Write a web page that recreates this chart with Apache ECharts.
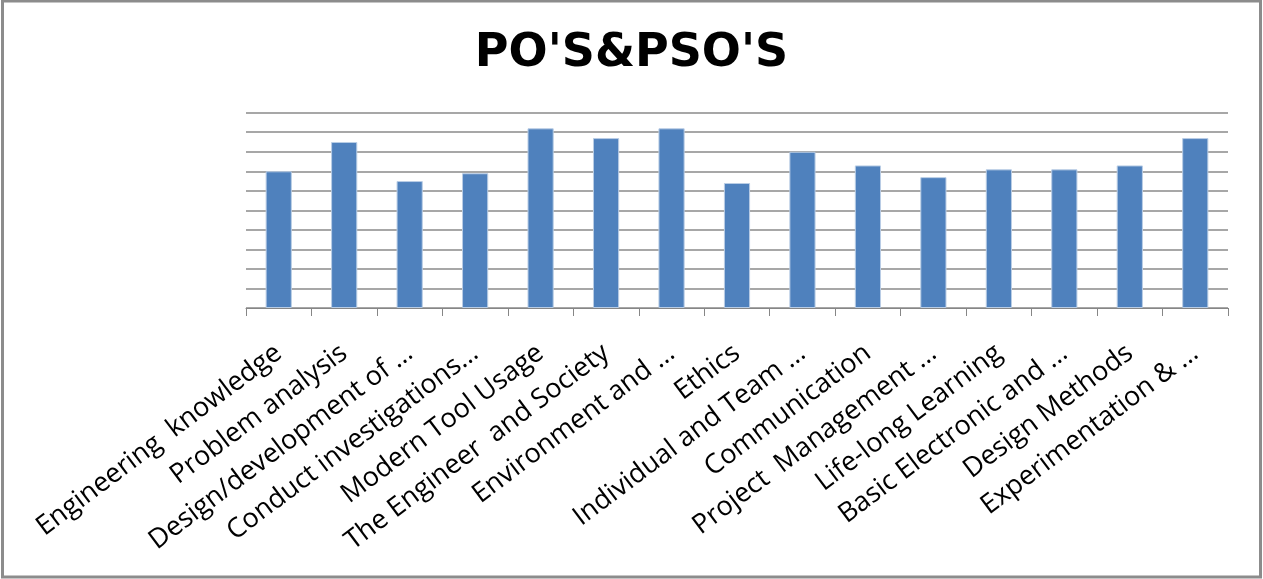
<!DOCTYPE html>
<html>
<head>
<meta charset="utf-8">
<script src="https://cdn.jsdelivr.net/npm/echarts@6/dist/echarts.min.js"></script>
<style>
html,body{margin:0;padding:0;background:#fff;}
#chart{width:1263px;height:579px;}
</style>
</head>
<body>
<div id="chart"></div>
<script>
const categories = [
  "Engineering  knowledge",
  "Problem analysis",
  "Design/development of …",
  "Conduct investigations…",
  "Modern Tool Usage",
  "The Engineer  and Society",
  "Environment and …",
  "Ethics",
  "Individual and Team …",
  "Communication",
  "Project  Management …",
  "Life-long Learning",
  "Basic Electronic and …",
  "Design Methods",
  "Experimentation & …"
];
const values = [7.0, 8.5, 6.5, 6.9, 9.2, 8.7, 9.2, 6.4, 8.0, 7.3, 6.7, 7.1, 7.1, 7.3, 8.7];
const titleText = "PO'S&PSO'S";

const chart = echarts.init(document.getElementById('chart'));
chart.setOption({
  backgroundColor: '#ffffff',
  animation: false,
  title: {
    text: titleText,
    left: 'center',
    top: 26,
    textStyle: {fontFamily: 'DejaVu Sans', fontWeight: 'bold', fontSize: 46, color: '#000'}
  },
  graphic: [{
    type: 'rect',
    shape: {x: 2.5, y: 1, width: 1258, height: 576},
    style: {fill: 'none', stroke: '#8c8c8c', lineWidth: 3},
    silent: true
  }],
  grid: {left: 246, right: 35, top: 112.7, bottom: 271, containLabel: false},
  xAxis: {
    type: 'category',
    data: categories,
    axisLine: {lineStyle: {color: '#868686', width: 1}},
    axisTick: {show: true, length: 8, lineStyle: {color: '#868686'}},
    axisLabel: {
      interval: 0,
      rotate: 37,
      margin: 42,
      fontFamily: 'Open Sans',
      fontSize: 27,
      color: '#000'
    }
  },
  yAxis: {
    type: 'value',
    min: 0,
    max: 10,
    interval: 1,
    axisLabel: {show: false},
    axisLine: {show: false},
    axisTick: {show: false},
    splitLine: {lineStyle: {color: '#8a8a8a', width: 1.5}}
  },
  series: [{
    type: 'bar',
    data: values,
    barWidth: '40%',
    itemStyle: {color: '#4f81bd', borderColor: '#b9cde5', borderWidth: 1}
  }]
});
</script>
</body>
</html>
